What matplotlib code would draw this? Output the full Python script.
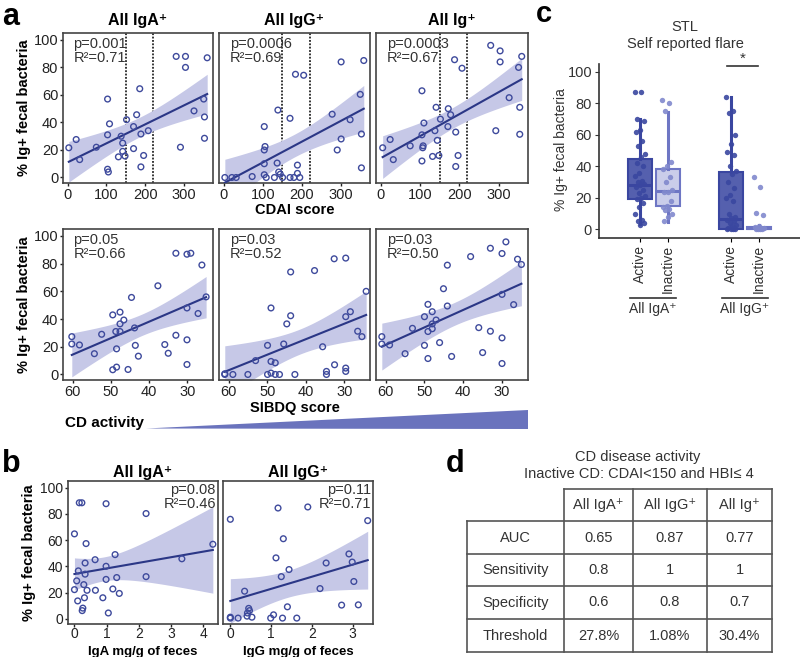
import numpy as np
import matplotlib
matplotlib.use("Agg")
import matplotlib.pyplot as plt
from matplotlib.patches import Polygon

plt.rcParams['font.family'] = ['Liberation Sans', 'DejaVu Sans']

# ---- data: panel a, CDAI score (top row) ----
cdai_iga = [(3, 21.6), (22, 27.6), (31, 13), (74, 22), (103, 57), (103, 31), (108, 39), (103, 6), (105, 4),
            (131, 15), (138, 30), (142, 25), (142, 19), (148, 15.6), (152, 42), (178, 45.6), (170, 37), (170, 21),
            (186, 64.5), (189, 31.6), (189, 7.7), (196, 16), (208, 34), (280, 88), (304, 88), (304, 80), (291, 22),
            (326, 48.4), (351, 57), (353, 44), (353, 28.5), (360, 87)]
cdai_igg = [(3, 0), (21, 0), (32, 0), (73, 0.7), (104, 37), (104, 20), (106, 22.5), (104, 10), (104, 2), (109, 0),
            (130, 0), (137, 10.5), (139, 49), (141, 4), (145, 2.4), (151, 0), (170, 43), (170, 0), (180, 0),
            (184, 75), (189, 9), (189, 3), (195, 0), (205, 74.3), (278, 46), (291, 20), (301, 28), (301, 84),
            (324, 42), (350, 60.4), (353, 31.6), (353, 7), (359, 85)]
cdai_ig = [(5, 21.6), (24, 27.6), (32, 13), (75, 23), (105, 63), (105, 31), (110, 39.6), (107, 21.6), (108, 23),
           (105, 12), (132, 15.3), (138, 34), (141, 51), (144, 27), (148, 16), (152, 42.4), (171, 37), (172, 50),
           (178, 45.6), (188, 85.6), (191, 33), (191, 8), (197, 16), (207, 79.4), (280, 96), (304, 92), (304, 84),
           (293, 34), (327, 58), (351, 80), (354, 51), (354, 31.4), (359, 88)]
cdai_stats = [("p=0.001", "R²=0.71"), ("p=0.0006", "R²=0.69"), ("p=0.0003", "R²=0.67")]
cdai_cutoffs = [150, 220]

# ---- data: panel a, SIBDQ score (bottom row) ----
sibdq_iga = [(60.2, 27.3), (60.2, 22), (58.2, 21.3), (54.3, 15), (52.4, 29), (49.5, 43), (49.5, 3.4), (48.7, 31),
             (48.5, 18.5), (48.5, 5.3), (47.6, 45), (47.6, 36.5), (47.6, 31), (46.6, 39.3), (45.5, 3.6), (44.6, 55.6),
             (43.8, 33.6), (43.6, 21), (42.8, 13.2), (37.7, 64), (35.9, 21.6), (35, 15.3), (33, 87.5), (33, 28.3),
             (30.1, 86.8), (29.1, 87.5), (30.1, 48), (30.1, 25), (30.1, 7.2), (27.2, 44), (26.2, 79), (25.1, 56)]
sibdq_igg = [(61, 0.5), (61, 0), (58.9, 0), (55, 0), (53, 10), (49.9, 21), (49.9, 0), (49, 48), (49, 9.4), (49, 1),
             (47.9, 8.4), (47.9, 0), (46.8, 0), (45.7, 22), (44.9, 36.5), (43.9, 74), (43.9, 42.4), (42.8, 0),
             (37.7, 75), (35.6, 20), (34.6, 2.2), (34.6, 0), (32.6, 83.5), (32.5, 7), (29.6, 84), (29.6, 41.7),
             (29.6, 4.6), (29.6, 2.2), (28.4, 45.3), (26.5, 31.2), (25.4, 27.3), (24.3, 60)]
sibdq_ig = [(61, 27.3), (61, 22), (59, 21.3), (55, 15), (53.1, 33.3), (50, 41.7), (50, 21), (49.1, 50.6), (49.1, 31),
            (49.1, 11.5), (48, 45.3), (48, 36.5), (48, 33), (47, 39.3), (46.1, 23), (45.1, 61.9), (44.1, 78.9),
            (44.1, 49.4), (43, 13), (38.1, 85.1), (36, 33.8), (35, 15.8), (33, 91.1), (33, 31.2), (30, 87.3),
            (30, 57.8), (30, 26.4), (30, 7.9), (29, 95.7), (27, 50.4), (26, 83.2), (25, 79.4)]
sibdq_stats = [("p=0.05", "R²=0.66"), ("p=0.03", "R²=0.52"), ("p=0.03", "R²=0.50")]

# ---- data: panel b, fecal Ig concentration ----
iga_conc = [(0, 64.7), (0, 22.2), (0.07, 28.9), (0.12, 36.5), (0.1, 13.6), (0.15, 88.4), (0.23, 88.4), (0.24, 6.2),
            (0.26, 8.1), (0.29, 26), (0.31, 16), (0.33, 42.5), (0.33, 34), (0.36, 57.3), (0.39, 21.7), (0.64, 45),
            (0.65, 21.7), (0.98, 87.7), (0.98, 40), (0.98, 30), (1.05, 4.4), (0.88, 16), (1.19, 22.7), (1.26, 48.9),
            (1.31, 31.4), (1.39, 19.3), (2.22, 80.2), (2.22, 32.1), (3.33, 45.7), (4.29, 56.8)]
igg_conc = [(0, 75.8), (0, 1.2), (0, 0.5), (0.19, 0.5), (0.35, 21), (0.41, 2), (0.42, 4.4), (0.45, 7.9), (0.47, 6.2),
            (0.53, 1.2), (0.99, 0.5), (1.06, 3), (1.12, 46.4), (1.17, 84.4), (1.25, 32.1), (1.28, 0.5), (1.3, 61),
            (1.4, 9.1), (1.44, 37.5), (1.63, 0.5), (1.9, 85.2), (2.2, 23), (2.35, 42.5), (2.73, 10.4), (2.91, 49.4),
            (2.99, 43.2), (3.03, 28.4), (3.14, 10.6), (3.37, 74.8)]
conc_stats = [("p=0.08", "R²=0.46"), ("p=0.11", "R²=0.71")]

# ---- data: panel c, self reported flare ----
flare_groups = ["Active", "Inactive", "Active", "Inactive"]
flare_q1 = [19.4, 14.7, 0.0, 0.0]
flare_med = [28.4, 24.2, 6.3, 0.6]
flare_q3 = [44.6, 38.5, 36.4, 1.6]
flare_lo = [3.2, 4.8, 0.0, 0.0]
flare_hi = [70.0, 74.7, 84.2, 2.5]
flare_points = [
    [87.4, 87, 70, 69, 63, 62, 56, 53, 48, 46, 42, 40, 36, 34, 31, 30, 29, 28, 27, 25, 23, 21, 20, 19, 17, 14,
     10, 6, 5, 4, 3],
    [82, 80, 75, 43, 40, 38.5, 33, 30, 25, 24, 24, 18, 15, 14, 13, 12, 10, 8, 5],
    [84, 75, 74, 60, 54, 49, 47, 40, 37, 35, 30, 26, 22, 20, 18, 10, 8, 7, 6, 5, 4, 3, 2, 1, 0, 0, 0, 0],
    [33, 27, 10.5, 9, 2, 1.5, 1, 1, 0.8, 0.5, 0.3, 0, 0],
]

# ---- data: panel d, ROC table ----
table_cols = ["All IgA⁺", "All IgG⁺", "All Ig⁺"]
table_rows = ["AUC", "Sensitivity", "Specificity", "Threshold"]
table_vals = [["0.65", "0.87", "0.77"],
              ["0.8", "1", "1"],
              ["0.6", "0.8", "0.7"],
              ["27.8%", "1.08%", "30.4%"]]

W, H = 800, 657
band_c = '#c6c8e7'
line_c = '#2b3786'
pt_c = '#3e4a9c'
dark_box = '#5560ae'
dark_edge = '#3a46a0'
light_box = '#cacdea'
light_edge = '#6e76c4'


def rect(l, t, r, b):
    return [l / W, 1 - b / H, (r - l) / W, (b - t) / H]


def fit_band(x, y):
    slope, icpt = np.polyfit(x, y, 1)
    xs = np.linspace(x.min(), x.max(), 100)
    yhat = icpt + slope * xs
    n = len(x)
    s = np.sqrt(np.sum((y - (icpt + slope * x)) ** 2) / (n - 2))
    se = s * np.sqrt(1 / n + (xs - x.mean()) ** 2 / np.sum((x - x.mean()) ** 2))
    return xs, yhat, yhat - 2.04 * se, yhat + 2.04 * se


def scatter_panel(ax, pts, xlim, xticks, stats, show_y, ylim=(-4, 105), vlines=None, stat_right=False,
                  tick_fs=10.5):
    x = np.array([p[0] for p in pts], dtype=float)
    y = np.array([p[1] for p in pts], dtype=float)
    if vlines:
        for v in vlines:
            ax.axvline(v, color='black', lw=1.1, ls=(0, (1.2, 1.0)), zorder=1)
    xs, yhat, lo, hi = fit_band(x, y)
    ax.fill_between(xs, lo, hi, color=band_c, lw=0, zorder=2)
    ax.plot(xs, yhat, color=line_c, lw=1.5, zorder=3)
    ax.scatter(x, y, s=17, facecolors='none', edgecolors=pt_c, linewidths=1.0, zorder=4)
    ax.set_xlim(*xlim)
    ax.set_ylim(*ylim)
    ax.set_xticks(xticks)
    ax.set_yticks([0, 20, 40, 60, 80, 100])
    ax.tick_params(labelsize=tick_fs, colors='#222', length=2.5, width=1, pad=1)
    if not show_y:
        ax.tick_params(axis='y', left=False, labelleft=False)
    for sp in ax.spines.values():
        sp.set_color('#444')
        sp.set_linewidth(1.2)
    if stat_right:
        ax.text(0.985, 0.985, stats[0] + "\n" + stats[1], transform=ax.transAxes, ha='right', va='top',
                fontsize=10.5, color='#333', linespacing=1.0)
    else:
        ax.text(0.07, 0.975, stats[0] + "\n" + stats[1], transform=ax.transAxes, ha='left', va='top',
                fontsize=10.5, color='#333', linespacing=1.0)


fig = plt.figure(figsize=(8, 6.57), dpi=100)
ov = fig.add_axes([0, 0, 1, 1])
ov.set_xlim(0, W)
ov.set_ylim(H, 0)
ov.axis('off')

# panel a
cols_a = [(63, 213), (219, 370), (376, 528)]
titles_a = ["All IgA⁺", "All IgG⁺", "All Ig⁺"]
for i, (l, r) in enumerate(cols_a):
    ax = fig.add_axes(rect(l, 33, r, 183))
    scatter_panel(ax, [cdai_iga, cdai_igg, cdai_ig][i], (-12, 375), [0, 100, 200, 300], cdai_stats[i],
                  i == 0, vlines=cdai_cutoffs)
    ov.text((l + r) / 2, 25.5, titles_a[i], ha='center', va='baseline', fontsize=11.5, fontweight='bold')
    ax = fig.add_axes(rect(l, 229, r, 380))
    scatter_panel(ax, [sibdq_iga, sibdq_igg, sibdq_ig][i], (62.5, 23.3), [60, 50, 40, 30], sibdq_stats[i], i == 0)

ov.text(295, 214, "CDAI score", ha='center', va='baseline', fontsize=10.5, fontweight='bold')
ov.text(295, 412, "SIBDQ score", ha='center', va='baseline', fontsize=10.5, fontweight='bold')
ov.text(24, 108, "% Ig+ fecal bacteria", rotation=90, ha='center', va='center', fontsize=10.5, fontweight='bold')
ov.text(24, 305, "% Ig+ fecal bacteria", rotation=90, ha='center', va='center', fontsize=10.5, fontweight='bold')
ov.text(65, 427, "CD activity", ha='left', va='baseline', fontsize=11, fontweight='bold')
ov.add_patch(Polygon([(146, 428.5), (528, 410), (528, 429)], closed=True, color='#6a73bd', lw=0))

# panel b
cols_b = [(68, 218), (223, 373)]
titles_b = ["All IgA⁺", "All IgG⁺"]
xl_b = ["IgA mg/g of feces", "IgG mg/g of feces"]
for i, (l, r) in enumerate(cols_b):
    ax = fig.add_axes(rect(l, 481, r, 624))
    if i == 0:
        scatter_panel(ax, iga_conc, (-0.2, 4.45), [0, 1, 2, 3, 4], conc_stats[0], True, stat_right=True,
                      tick_fs=10)
    else:
        scatter_panel(ax, igg_conc, (-0.18, 3.5), [0, 1, 2, 3], conc_stats[1], False, stat_right=True,
                      tick_fs=10)
    ax.tick_params(axis='x', length=2, pad=0.5)
    ov.text((l + r) / 2, 477, titles_b[i], ha='center', va='baseline', fontsize=11.5, fontweight='bold')
    ov.text((l + r) / 2, 654.5, xl_b[i], ha='center', va='baseline', fontsize=9.5, fontweight='bold')
ov.text(29, 553, "% Ig+ fecal bacteria", rotation=90, ha='center', va='center', fontsize=10.5, fontweight='bold')

# panel c
axc = fig.add_axes(rect(599, 64, 800, 238))
pos = [0, 1, 3.3, 4.3]
face = [dark_box, light_box, dark_box, light_box]
edge = [dark_edge, light_edge, dark_edge, light_edge]
ptcol = ['#3a47a0', '#8189cd', '#3a47a0', '#8189cd']
for i in range(4):
    st = [dict(med=flare_med[i], q1=flare_q1[i], q3=flare_q3[i], whislo=flare_lo[i], whishi=flare_hi[i], fliers=[])]
    axc.bxp(st, positions=[pos[i]], widths=0.86 if i < 3 else 0.9, patch_artist=True, showcaps=False,
            boxprops=dict(facecolor=face[i], edgecolor=edge[i], lw=1.5),
            medianprops=dict(color=edge[i], lw=2.2),
            whiskerprops=dict(color=edge[i], lw=2.2), manage_ticks=False)
    vals = np.array(flare_points[i], dtype=float)
    k = np.arange(len(vals))
    jit = ((k * 0.618) % 1 - 0.5) * 0.38
    axc.scatter(pos[i] + jit, vals, s=15, color=ptcol[i], alpha=0.9, lw=0, zorder=5)
axc.set_xlim(-1.48, 5.78)
axc.set_ylim(-5.5, 105)
axc.set_yticks([0, 20, 40, 60, 80, 100])
axc.set_xticks(pos)
axc.set_xticklabels(flare_groups, rotation=90, fontsize=10, color='#333')
axc.tick_params(axis='y', labelsize=10.5, colors='#333', length=3, pad=2)
axc.tick_params(axis='x', length=3, pad=2)
for s in ['top', 'right']:
    axc.spines[s].set_visible(False)
for s in ['left', 'bottom']:
    axc.spines[s].set_color('#333')
    axc.spines[s].set_linewidth(1.2)
axc.plot([pos[2] - 0.15, pos[3] - 0.05], [103.6, 103.6], color='#333', lw=1.2, clip_on=False)
axc.text((pos[2] + pos[3]) / 2 - 0.1, 104, "*", ha='center', va='bottom', fontsize=11, color='#333')
ov.text(685, 27, "STL", ha='center', va='center', fontsize=10.5, color='#333')
ov.text(685, 44, "Self reported flare", ha='center', va='center', fontsize=10.5, color='#333')
ov.text(561, 150, "% Ig+ fecal bacteria", rotation=90, ha='center', va='center', fontsize=10, color='#333')
for (l, r), lab in zip([(630, 676), (722, 768)], ["All IgA⁺", "All IgG⁺"]):
    ov.plot([l, r], [297.7, 297.7], color='#333', lw=1.2)
    ov.text((l + r) / 2, 309, lab, ha='center', va='center', fontsize=10, color='#333')

# panel d
ov.text(638, 457, "CD disease activity", ha='center', va='center', fontsize=10.5, color='#333')
ov.text(639, 474.5, "Inactive CD: CDAI<150 and HBI≤ 4", ha='center', va='center', fontsize=10.5, color='#333')
xe = [467, 564, 633, 707, 772]
ye = [489, 521, 554, 586, 619, 652]
gc = '#555'
ov.plot([xe[1], xe[-1]], [ye[0], ye[0]], color=gc, lw=1.2)
for yy in ye[1:]:
    ov.plot([xe[0], xe[-1]], [yy, yy], color=gc, lw=1.2)
ov.plot([xe[0], xe[0]], [ye[1], ye[-1]], color=gc, lw=1.2)
for xx in xe[1:]:
    ov.plot([xx, xx], [ye[0], ye[-1]], color=gc, lw=1.2)
for j, c in enumerate(table_cols):
    ov.text((xe[j + 1] + xe[j + 2]) / 2, (ye[0] + ye[1]) / 2, c, ha='center', va='center', fontsize=10.5, color='#333')
for i, rname in enumerate(table_rows):
    yc = (ye[i + 1] + ye[i + 2]) / 2
    ov.text((xe[0] + xe[1]) / 2, yc, rname, ha='center', va='center', fontsize=10.5, color='#333')
    for j in range(3):
        ov.text((xe[j + 1] + xe[j + 2]) / 2, yc, table_vals[i][j], ha='center', va='center', fontsize=10.5,
                color='#333')

# panel letters
for lab, x, y, fs in [("a", 2, 25, 22), ("b", 2, 472, 22), ("c", 536, 22, 21), ("d", 446, 472, 22)]:
    ov.text(x, y, lab, ha='left', va='baseline', fontsize=fs, fontweight='bold')

fig.savefig("out.png", dpi=100)
